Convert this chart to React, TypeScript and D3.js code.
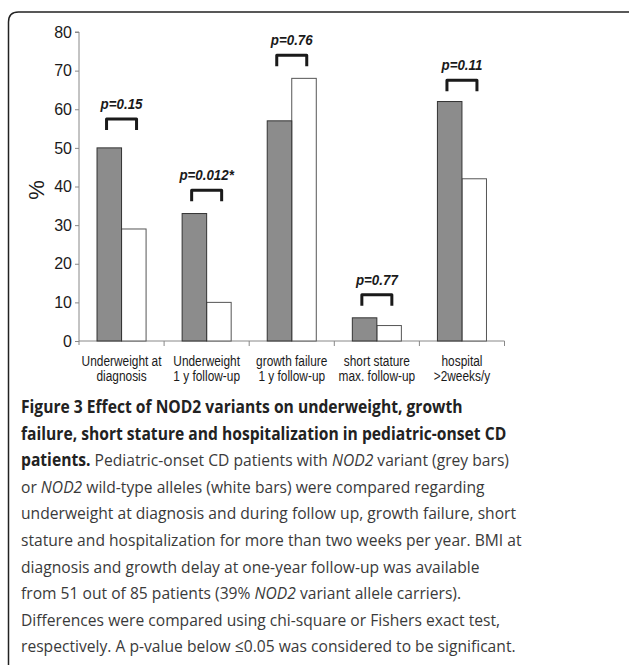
import { useEffect, useRef } from 'react'
import * as d3 from 'd3'

const categories = [
  ['Underweight at', 'diagnosis'],
  ['Underweight', '1 y follow-up'],
  ['growth failure', '1 y follow-up'],
  ['short stature', 'max. follow-up'],
  ['hospital', '>2weeks/y'],
]
const variantValues = [50, 33, 57, 6, 62]
const wildTypeValues = [29, 10, 68, 4, 42]
const pLabels = ['p=0.15', 'p=0.012*', 'p=0.76', 'p=0.77', 'p=0.11']
const bracketLevels = [57.5, 39, 74, 12, 67.5]
const yTicks = [0, 10, 20, 30, 40, 50, 60, 70, 80]

const captionLines: { parts: { text: string; bold?: boolean; italic?: boolean }[] }[] = [
  { parts: [{ text: 'Figure 3 Effect of NOD2 variants on underweight, growth', bold: true }] },
  { parts: [{ text: 'failure, short stature and hospitalization in pediatric-onset CD', bold: true }] },
  { parts: [{ text: 'patients.', bold: true }, { text: ' Pediatric-onset CD patients with ' }, { text: 'NOD2', italic: true }, { text: ' variant (grey bars)' }] },
  { parts: [{ text: 'or ' }, { text: 'NOD2', italic: true }, { text: ' wild-type alleles (white bars) were compared regarding' }] },
  { parts: [{ text: 'underweight at diagnosis and during follow up, growth failure, short' }] },
  { parts: [{ text: 'stature and hospitalization for more than two weeks per year. BMI at' }] },
  { parts: [{ text: 'diagnosis and growth delay at one-year follow-up was available' }] },
  { parts: [{ text: 'from 51 out of 85 patients (39% ' }, { text: 'NOD2', italic: true }, { text: ' variant allele carriers).' }] },
  { parts: [{ text: 'Differences were compared using chi-square or Fishers exact test,' }] },
  { parts: [{ text: 'respectively. A p-value below \u22640.05 was considered to be significant.' }] },
]

export default function App() {
  const svgRef = useRef<SVGSVGElement>(null)

  useEffect(() => {
    if (!svgRef.current) return
    const svg = d3.select(svgRef.current)
    svg.selectAll('*').remove()

    const width = 629
    const height = 669

    // frame with rounded top-left corner
    svg.append('path')
      .attr('d', `M8.5,${height - 4} L8.5,22 Q8.5,12 18.5,12 L${width + 5},12`)
      .attr('fill', 'none')
      .attr('stroke', '#222')
      .attr('stroke-width', 1.5)

    const x = d3.scaleBand<number>()
      .domain(categories.map((_, i) => i))
      .range([79, 504.5])
      .paddingInner(0)
      .paddingOuter(0)
    const inner = d3.scaleBand<string>()
      .domain(['variant', 'wild'])
      .range([0, x.bandwidth()])
      .paddingInner(0)
      .paddingOuter(0.735)
    const y = d3.scaleLinear().domain([0, 80]).range([341, 32])

    const g = svg.append('g')

    // y axis
    const yAxis = g.append('g')
      .attr('transform', 'translate(79,0)')
      .call(d3.axisLeft(y).tickValues(yTicks).tickSize(4).tickPadding(3))
    yAxis.select('.domain').attr('stroke', '#888').attr('d', `M-4,${y(80)}H0V${y(0) + 4}`)
    yAxis.selectAll('.tick line').attr('stroke', '#888')
    yAxis.selectAll('text')
      .attr('fill', '#1a1a1a')
      .attr('font-size', 16)
      .attr('font-family', 'Arial, "Liberation Sans", sans-serif')

    // x axis
    const xAxisG = g.append('g').attr('transform', `translate(0,${y(0)})`)
    xAxisG.append('line')
      .attr('x1', 79).attr('x2', x.range()[1])
      .attr('y1', 0).attr('y2', 0)
      .attr('stroke', '#888')
    const bounds = categories.map((_, i) => (x(i) ?? 0) + x.bandwidth())
    xAxisG.selectAll('line.tk')
      .data(bounds)
      .join('line')
      .attr('class', 'tk')
      .attr('x1', (d) => d).attr('x2', (d) => d)
      .attr('y1', 0).attr('y2', 5)
      .attr('stroke', '#888')

    // bars
    const groups = g.selectAll('g.cat')
      .data(categories.map((c, i) => ({ i, c, v: variantValues[i], w: wildTypeValues[i] })))
      .join('g')
      .attr('class', 'cat')
      .attr('transform', (d) => `translate(${x(d.i)},0)`)

    groups.append('rect')
      .attr('x', inner('wild') ?? 0)
      .attr('y', (d) => y(d.w))
      .attr('width', inner.bandwidth())
      .attr('height', (d) => y(0) - y(d.w))
      .attr('fill', '#fff')
      .attr('stroke', '#555')
      .attr('stroke-width', 1)

    groups.append('rect')
      .attr('x', inner('variant') ?? 0)
      .attr('y', (d) => y(d.v))
      .attr('width', inner.bandwidth())
      .attr('height', (d) => y(0) - y(d.v))
      .attr('fill', '#8c8c8c')
      .attr('stroke', '#333')
      .attr('stroke-width', 1)

    // brackets + p values
    groups.append('path')
      .attr('d', (d) => {
        const cx = x.bandwidth() / 2
        const top = y(bracketLevels[d.i])
        return `M${cx - 15},${top + 11}V${top}H${cx + 15}V${top + 11}`
      })
      .attr('fill', 'none')
      .attr('stroke', '#1a1a1a')
      .attr('stroke-width', 3)
      .attr('stroke-linejoin', 'round')

    groups.append('text')
      .attr('transform', (d) => `translate(${x.bandwidth() / 2},${y(bracketLevels[d.i]) - 10}) scale(0.92,1)`)
      .attr('text-anchor', 'middle')
      .attr('font-size', 14.5)
      .attr('font-weight', 'bold')
      .attr('font-style', 'italic')
      .attr('font-family', 'Arial, "Liberation Sans", sans-serif')
      .attr('fill', '#1a1a1a')
      .text((d) => pLabels[d.i])

    // category labels (condensed)
    const labelScale = 0.82
    groups.append('text')
      .attr('transform', `translate(${x.bandwidth() / 2},0) scale(${labelScale},1)`)
      .attr('text-anchor', 'middle')
      .attr('font-size', 14.5)
      .attr('font-family', 'Arial, "Liberation Sans", sans-serif')
      .attr('fill', '#1a1a1a')
      .selectAll('tspan')
      .data((d) => d.c)
      .join('tspan')
      .attr('x', 0)
      .attr('y', (_, j) => 366 + j * 15.5)
      .text((t) => t)

    // y label
    svg.append('text')
      .attr('transform', `translate(44,190) rotate(-90)`)
      .attr('text-anchor', 'middle')
      .attr('font-size', 22)
      .attr('font-family', 'Arial, "Liberation Sans", sans-serif')
      .attr('fill', '#1a1a1a')
      .text('%')

    // caption
    const capScale = 0.92
    const cap = svg.append('g').attr('transform', `translate(21,0) scale(${capScale},1)`)
    captionLines.forEach((line, i) => {
      const t = cap.append('text')
        .attr('x', 0)
        .attr('y', 413 + i * 26.6)
        .attr('font-size', 17)
        .attr('font-family', '"Open Sans", "Noto Sans", sans-serif')
        .attr('fill', '#222')
      line.parts.forEach((p) => {
        t.append('tspan')
          .attr('font-weight', p.bold ? 'bold' : 'normal')
          .attr('font-style', p.italic ? 'italic' : 'normal')
          .attr('fill', p.bold ? '#222' : '#3a3a3a')
          .text(p.text)
      })
    })
  }, [])

  return (
    <svg
      ref={svgRef}
      width={629}
      height={669}
      style={{ position: 'absolute', left: 0, top: 0, background: '#fff' }}
    />
  )
}
